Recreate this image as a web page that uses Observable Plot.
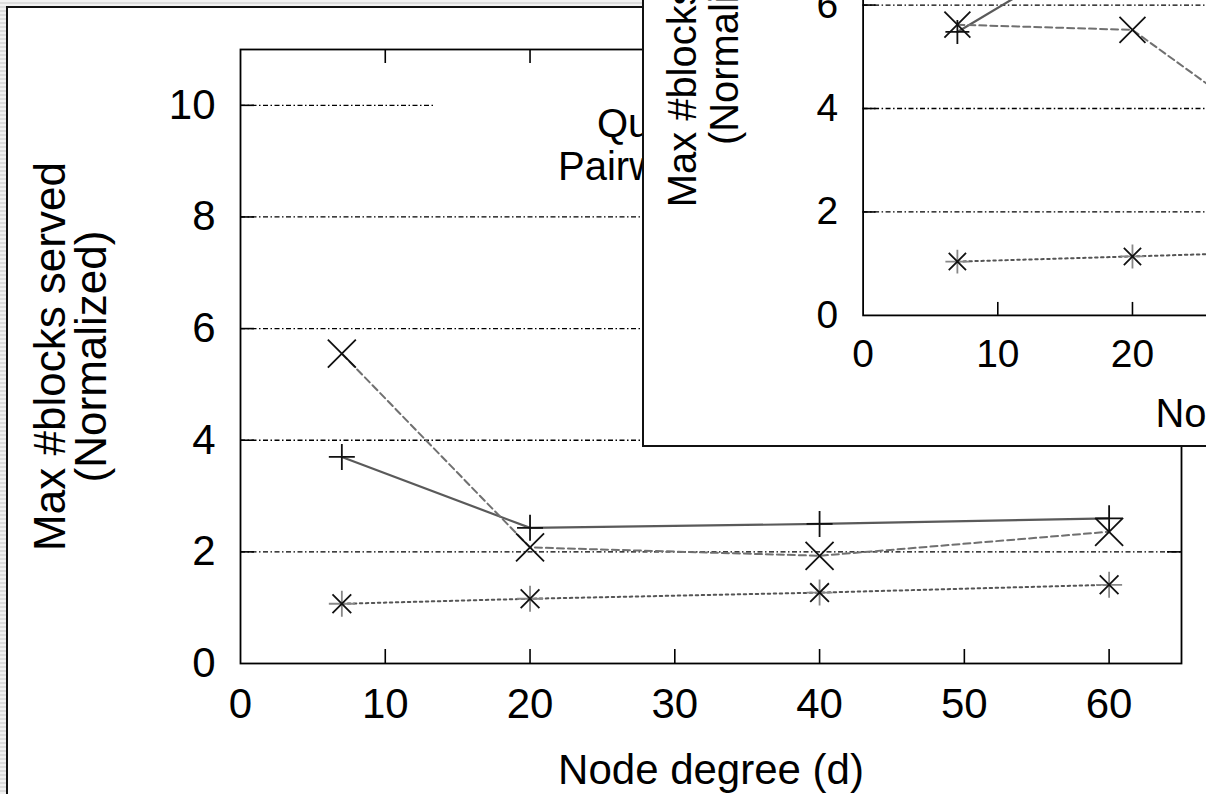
<!DOCTYPE html>
<html>
<head>
<meta charset="utf-8">
<script src="https://cdn.jsdelivr.net/npm/d3@7"></script>
<script src="https://cdn.jsdelivr.net/npm/@observablehq/plot@0.6"></script>
<style>
html, body { margin: 0; padding: 0; width: 1206px; height: 794px; overflow: hidden;
  background: repeating-linear-gradient(0deg, #f2f2f2 0 2px, #dcdcdc 2px 4px);
  font-family: "Liberation Sans", Arial, sans-serif; }
#sheet { position: absolute; left: 6px; top: 6px; width: 1400px; height: 1000px; background: #fff;
  border: 2px solid #111; box-sizing: border-box; }
#main { position: absolute; left: 0; top: 0; }
#legend { position: absolute; left: 435px; top: 78px; width: 260px; height: 122px; background: #fff; }
#legend div { position: absolute; white-space: nowrap; font-size: 40px; line-height: 1; color: #000; }
#inset { position: absolute; left: 642px; top: -293px; width: 1122px; height: 740px; background: #fff;
  border: 2px solid #111; box-sizing: border-box; }
#inset .plotbox { position: absolute; left: -2px; top: -2px; }
</style>
</head>
<body>
<div id="sheet"></div>
<div id="main"></div>
<div id="legend"></div>
<div id="inset"><div class="plotbox"></div></div>
<script>
// ---------- data ----------
const xTicks = [0, 10, 20, 30, 40, 50, 60];
const yTicks = [0, 2, 4, 6, 8, 10];
const gridValues = [2, 4, 6, 8, 10];
const xTitle = "Node degree (d)";
const yTitle = "Max #blocks served\n(Normalized)";
const legendLabels = ["Quorum", "Pairwise"];

// main chart
const degrees = [7, 20, 40, 60];
const mainPlus = [3.7, 2.43, 2.5, 2.6];
const mainTimes = [5.55, 2.08, 1.93, 2.36];
const mainStar = [1.07, 1.16, 1.27, 1.41];

// overlapping (second) chart, partly visible
const insetPlusDegrees = [7, 20];
const insetPlus = [5.48, 7.5];
const insetDegrees = [7, 20, 40];
const insetTimes = [5.62, 5.52, 1.75];
const insetStar = [1.04, 1.14, 1.3];

// ---------- symbols ----------
const symPlus = { draw(c, s) { const r = Math.sqrt(s / Math.PI);
  c.moveTo(-r, 0); c.lineTo(r, 0); c.moveTo(0, -r); c.lineTo(0, r); } };
const symTimes = { draw(c, s) { const r = Math.sqrt(s / Math.PI);
  c.moveTo(-r, -r); c.lineTo(r, r); c.moveTo(-r, r); c.lineTo(r, -r); } };

const FONT = '"Liberation Sans", Arial, Helvetica, sans-serif';
const rows = (xs, ys) => xs.map((x, i) => ({x, y: ys[i]}));
const intFmt = d3.format("d");

function chart(o) {
  const pw = o.width - o.ml - o.mr, ph = o.height - o.mt - o.mb;
  const inner = xTicks.filter(d => d > 0);
  const innerY = yTicks.filter(d => d > 0);
  const tk = {stroke: "#000", strokeWidth: 1.6};
  const dotOpt = {x: "x", y: "y", fill: "none", stroke: "#111", strokeWidth: 1.8};
  const series = [];
  const P = rows(o.plusX, o.plus), T = rows(o.timesX, o.times), S = rows(o.starX, o.star);
  series.push(Plot.line(P, {x: "x", y: "y", stroke: "#5a5a5a", strokeWidth: 2.2}));
  series.push(Plot.line(T, {x: "x", y: "y", stroke: "#707070", strokeWidth: 2, strokeDasharray: "7,4"}));
  series.push(Plot.line(S, {x: "x", y: "y", stroke: "#555", strokeWidth: 2, strokeDasharray: "2.5,3.5"}));
  series.push(Plot.dot(P, {...dotOpt, symbol: symPlus, r: o.rPlus}));
  series.push(Plot.dot(T, {...dotOpt, symbol: symTimes, r: o.rTimes}));
  series.push(Plot.dot(S, {...dotOpt, symbol: symPlus, r: o.rStar, stroke: "#888"}));
  series.push(Plot.dot(S, {...dotOpt, symbol: symTimes, r: o.rStar * 0.72}));
  return Plot.plot({
    width: o.width, height: o.height,
    marginLeft: o.ml, marginRight: o.mr, marginTop: o.mt, marginBottom: o.mb,
    x: {domain: [0, 65]},
    y: {domain: [0, 11]},
    style: {background: "transparent", fontFamily: FONT, fontSize: o.fs + "px", color: "#000", overflow: "visible"},
    marks: [
      Plot.ruleY(gridValues, {y: d => d, stroke: "#000", strokeWidth: 1.3, strokeDasharray: "5,2.5,1.5,2.5"}),
      Plot.tickX(inner, {x: d => d, insetTop: ph - o.tick, ...tk}),
      Plot.tickX(inner, {x: d => d, insetBottom: ph - o.tick, ...tk}),
      Plot.tickY(innerY, {y: d => d, insetRight: pw - o.tick, ...tk}),
      Plot.tickY(innerY, {y: d => d, insetLeft: pw - o.tick, ...tk}),
      ...series,
      Plot.frame({stroke: "#000", strokeWidth: 1.8}),
      Plot.axisX(xTicks, {tickSize: 0, tickPadding: o.padX, fontSize: o.fs, tickFormat: intFmt, label: null}),
      Plot.axisY(yTicks, {tickSize: 0, tickPadding: o.padY, fontSize: o.fs, tickFormat: intFmt, label: null}),
      Plot.text([xTitle], {frameAnchor: "bottom", dy: o.xTitleDy, lineAnchor: "middle", fontSize: o.fsX, fill: "#000"}),
      Plot.text([yTitle], {frameAnchor: "left", rotate: -90, dx: o.yTitleDx, textAnchor: "middle",
        lineAnchor: "middle", lineHeight: o.lh, fontSize: o.fsTitle, fill: "#000"})
    ]
  });
}

document.getElementById("main").append(chart({
  width: 1206, height: 794, ml: 240, mr: 25, mt: 49, mb: 131,
  fs: 42, fsTitle: 44, fsX: 42, padX: 25, padY: 25, tick: 14,
  xTitleDy: 107, yTitleDx: -168, lh: 0.93,
  rPlus: 13, rTimes: 14, rStar: 13,
  plusX: degrees, plus: mainPlus, timesX: degrees, times: mainTimes, starX: degrees, star: mainStar
}));

const leg = document.getElementById("legend");
[[162, 25], [123, 68]].forEach(([l, t], i) => {
  const d = document.createElement("div");
  d.style.left = l + "px"; d.style.top = t + "px";
  d.textContent = legendLabels[i];
  leg.append(d);
});

document.querySelector("#inset .plotbox").append(chart({
  width: 1122, height: 740, ml: 221, mr: 24, mt: 39, mb: 131,
  fs: 39, fsTitle: 40, fsX: 40, padX: 24, padY: 25, tick: 13,
  xTitleDy: 99, yTitleDx: -160, lh: 1.05,
  rPlus: 12, rTimes: 13, rStar: 12,
  plusX: insetPlusDegrees, plus: insetPlus, timesX: insetDegrees, times: insetTimes, starX: insetDegrees, star: insetStar
}));
</script>
</body>
</html>
